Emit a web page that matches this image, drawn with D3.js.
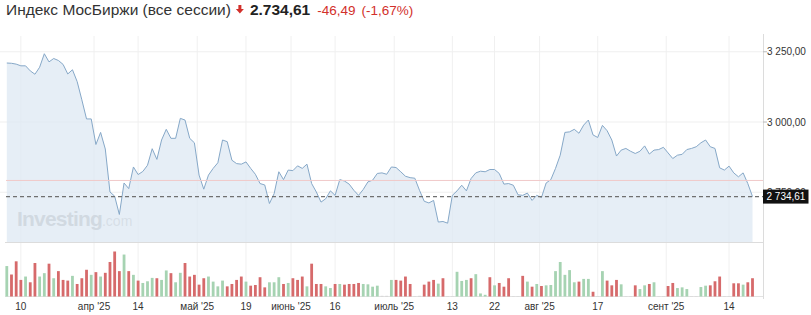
<!DOCTYPE html>
<html>
<head>
<meta charset="utf-8">
<script src="https://cdnjs.cloudflare.com/ajax/libs/d3/7.8.5/d3.min.js"></script>
<style>
  body { margin: 0; background: #fff; }
  .svg { display: block; font-family: "Liberation Sans", Arial, sans-serif; }
</style>
</head>
<body>
<div class="js-container"></div>
<script>
;(function() {
  'use strict';

  // Session closes, one per bar (weekend sessions included from late June).
  var closes = [
    3210, 3209, 3206, 3200, 3200, 3182, 3170, 3195, 3243, 3214,
    3226, 3219, 3205, 3171, 3186, 3144, 3079, 3011, 3011, 2920,
    2963, 2904, 2751, 2736, 2671, 2783, 2763, 2840, 2813, 2824,
    2846, 2905, 2867, 2936, 2974, 2942, 2942, 3013, 3007, 2942,
    2926, 2811, 2761, 2811, 2835, 2855, 2936, 2930, 2864, 2852,
    2850, 2858, 2835, 2814, 2781, 2776, 2710, 2745, 2823, 2795,
    2829, 2827, 2844, 2835, 2850, 2781, 2751, 2715, 2727, 2755,
    2739, 2795, 2790, 2779, 2757, 2739, 2760, 2787, 2793, 2817,
    2819, 2814, 2840, 2838, 2823, 2807, 2802, 2800, 2757, 2718,
    2712, 2721, 2644, 2646, 2640, 2739, 2755, 2775, 2755, 2799,
    2819, 2825, 2823, 2831, 2831, 2817, 2779, 2781, 2775, 2741,
    2739, 2747, 2721, 2739, 2731, 2783, 2795, 2835, 2882, 2963,
    2965, 2974, 2960, 2989, 3007, 2954, 2945, 2988, 2969, 2936,
    2879, 2900, 2906, 2896, 2888, 2896, 2915, 2886, 2900, 2902,
    2910, 2890, 2870, 2882, 2885, 2902, 2906, 2912, 2926, 2936,
    2912, 2906, 2837, 2829, 2843, 2819, 2805, 2819, 2781, 2734.61
  ];

  // Volume per session (relative units) and its colour: G up, R down, N empty session.
  var volumes = [
    90, 65, 104, 49, 59, 42, 99, 59, 69, 97,
    54, 75, 49, 47, 61, 37, 54, 79, 64, 72,
    59, 70, 102, 133, 75, 124, 75, 64, 47, 40,
    45, 55, 54, 49, 77, 69, 42, 70, 99, 59,
    64, 35, 54, 59, 44, 30, 47, 30, 37, 49,
    59, 44, 32, 34, 57, 27, 42, 42, 57, 37,
    40, 54, 49, 59, 30, 97, 37, 37, 30, 25,
    37, 37, 35, 37, 37, 40, 37, 36, 29, 32,
    2, 2, 49, 49, 47, 59, 37, 1, 2, 35,
    44, 49, 38, 54, 1, 1, 73, 46, 49, 54,
    66, 9, 5, 57, 33, 40, 29, 54, 1, 1,
    61, 44, 29, 37, 31, 33, 34, 75, 102, 64,
    78, 42, 44, 52, 52, 14, 1, 75, 47, 33,
    49, 36, 1, 1, 33, 22, 33, 37, 42, 1,
    1, 31, 40, 25, 27, 22, 1, 1, 28, 32,
    33, 45, 59, 1, 1, 39, 39, 35, 42, 54
  ];
  var volDir = (
    'GRRRGRRGGR' + 'GRRRGRRRGR' + 'GRRRRGRGRG' + 'GGRGGRGGRR' +
    'RRRGGGGRRR' + 'RGRRRRGGGR' + 'GRRRGRRRGG' + 'RGRRRRGGGG' +
    'NNGRRRRNNR' + 'RRGRNNGGGR' + 'GGGRGRRRNN' + 'RGRGRGGGGG' +
    'GGRGGRNGRR' + 'RGNNRGGRGN' + 'NRRGGGNNGG' + 'RRRNNRRGRR'
  ).split('');

  // X tick labels, placed at a session index.
  var xTicks = [
    {i: 3, label: '10'},
    {i: 18.6, label: "апр '25"},
    {i: 28, label: '14'},
    {i: 40.6, label: "май '25"},
    {i: 51, label: '19'},
    {i: 60.6, label: "июнь '25"},
    {i: 70, label: '16'},
    {i: 82.6, label: "июль '25"},
    {i: 95, label: '13'},
    {i: 104, label: '22'},
    {i: 113.6, label: "авг '25"},
    {i: 126, label: '17'},
    {i: 140.6, label: "сент '25"},
    {i: 154, label: '14'}
  ];

  var yTicks = [2750, 3000, 3250];

  var lastPrice = 2734.61;
  var refLine = 2792;
  var change = '-46,49';
  var changePct = '(-1,67%)';

  var W = 811, H = 315;
  var plotRight = 763;
  var priceTop = 38, priceBottom = 242;
  var volTop = 251.5, volBottom = 296.5;

  var fmt = function(v) {
    var s = v.toFixed(2).split('.');
    return s[0].replace(/\B(?=(\d{3})+(?!\d))/g, ' ') + ',' + s[1];
  };

  var svg = d3.select('.js-container').append('svg')
      .classed('svg', true)
      .attr('width', W)
      .attr('height', H);

  var x = d3.scaleLinear().domain([0, closes.length - 1]).range([6.8, 752.5]);
  var y = d3.scaleLinear().domain([2573, 3299]).range([priceBottom, priceTop]);
  var yVol = d3.scaleLinear().domain([0, d3.max(volumes)]).range([volBottom, volTop]);

  // Grid lines.
  svg.append('g').selectAll('line')
      .data(xTicks)
    .enter().append('line')
      .attr('x1', function(d) { return x(d.i); })
      .attr('x2', function(d) { return x(d.i); })
      .attr('y1', 36)
      .attr('y2', volBottom)
      .attr('stroke', '#f0f0f0');

  svg.append('g').selectAll('line')
      .data(yTicks)
    .enter().append('line')
      .attr('x1', 0)
      .attr('x2', plotRight)
      .attr('y1', function(d) { return y(d); })
      .attr('y2', function(d) { return y(d); })
      .attr('stroke', '#efefef');

  // Watermark.
  var logo = svg.append('text')
      .attr('x', 17)
      .attr('y', 226)
      .attr('fill', '#ababab');
  logo.append('tspan')
      .attr('font-size', 21)
      .attr('font-weight', 'bold')
      .attr('letter-spacing', -0.8)
      .text('Investing');
  logo.append('tspan')
      .attr('font-size', 14)
      .attr('fill', '#c0c0c0')
      .text('.com');

  // Price area + line.
  var area = d3.area()
      .x(function(d, i) { return x(i); })
      .y0(priceBottom)
      .y1(function(d) { return y(d); });

  var line = d3.line()
      .x(function(d, i) { return x(i); })
      .y(function(d) { return y(d); });

  svg.append('path')
      .datum(closes)
      .attr('d', area)
      .attr('fill', '#dde8f3')
      .attr('fill-opacity', 0.75);

  svg.append('path')
      .datum(closes)
      .attr('d', line)
      .attr('fill', 'none')
      .attr('stroke', '#86a8c8')
      .attr('stroke-width', 1);

  // Reference line and last price dashed line.
  svg.append('line')
      .attr('x1', 6).attr('x2', plotRight)
      .attr('y1', y(refLine)).attr('y2', y(refLine))
      .attr('stroke', '#f1c9c9');

  svg.append('line')
      .attr('x1', 6).attr('x2', plotRight)
      .attr('y1', y(lastPrice)).attr('y2', y(lastPrice))
      .attr('stroke', '#707070')
      .attr('stroke-width', 1.3)
      .attr('stroke-dasharray', '4,3');

  // Panel borders.
  svg.append('line')
      .attr('x1', 5).attr('x2', plotRight)
      .attr('y1', priceBottom + 0.5).attr('y2', priceBottom + 0.5)
      .attr('stroke', '#dcdcdc');
  svg.append('line')
      .attr('x1', 5).attr('x2', plotRight)
      .attr('y1', volBottom).attr('y2', volBottom)
      .attr('stroke', '#e2e2e2');
  svg.append('line')
      .attr('x1', plotRight + 0.5).attr('x2', plotRight + 0.5)
      .attr('y1', 34).attr('y2', 299)
      .attr('stroke', '#dcdcdc');

  // Volume bars.
  var colors = {G: '#a6d3b2', R: '#d66a6b', N: '#cfcfcf'};
  svg.append('g').selectAll('rect')
      .data(volumes)
    .enter().append('rect')
      .attr('x', function(d, i) { return x(i) - 1.4; })
      .attr('width', 2.8)
      .attr('y', function(d) { return yVol(d); })
      .attr('height', function(d) { return volBottom - yVol(d); })
      .attr('fill', function(d, i) { return colors[volDir[i]]; });

  // Right axis. The 2 750,00 label sits mostly under the price tag, as in the source.
  var yAxis = svg.append('g');
  yTicks.forEach(function(t) {
    yAxis.append('line')
        .attr('x1', plotRight).attr('x2', plotRight + 4)
        .attr('y1', y(t)).attr('y2', y(t))
        .attr('stroke', '#bbb');
    yAxis.append('text')
        .attr('x', plotRight + 4)
        .attr('y', y(t) + 3.5)
        .attr('font-size', 10)
        .attr('fill', '#333')
        .text(fmt(t));
  });

  // Last price tag.
  var ly = y(lastPrice);
  svg.append('rect')
      .attr('x', plotRight)
      .attr('y', ly - 7)
      .attr('width', 45.5)
      .attr('height', 14)
      .attr('fill', '#111');
  svg.append('text')
      .attr('x', plotRight + 3.5)
      .attr('y', ly + 3.6)
      .attr('font-size', 10)
      .attr('fill', '#fff')
      .text(fmt(lastPrice));

  // X axis labels.
  svg.append('g').selectAll('text')
      .data(xTicks)
    .enter().append('text')
      .attr('x', function(d) { return x(d.i); })
      .attr('y', 310)
      .attr('text-anchor', 'middle')
      .attr('font-size', 10)
      .attr('fill', '#333')
      .text(function(d) { return d.label; });

  // Header.
  var title = svg.append('text')
      .attr('x', 6)
      .attr('y', 15)
      .attr('font-size', 15.5)
      .attr('fill', '#333')
      .text('Индекс МосБиржи (все сессии)');
  var tx = 6 + title.node().getComputedTextLength() + 5;

  svg.append('path')
      .attr('d', 'M' + (tx + 2.5) + ',5h3v4h2.5l-4,4.5l-4,-4.5h2.5z')
      .attr('fill', '#d2302b');
  tx += 14;

  var price = svg.append('text')
      .attr('x', tx)
      .attr('y', 15)
      .attr('font-size', 15.5)
      .attr('font-weight', 'bold')
      .attr('fill', '#222')
      .text('2.734,61');
  tx += price.node().getComputedTextLength() + 7;

  var chg = svg.append('text')
      .attr('x', tx)
      .attr('y', 15)
      .attr('font-size', 13.5)
      .attr('fill', '#d2302b')
      .text(change);
  tx += chg.node().getComputedTextLength() + 6;

  svg.append('text')
      .attr('x', tx)
      .attr('y', 15)
      .attr('font-size', 13.5)
      .attr('fill', '#d2302b')
      .text(changePct);

}());
</script>
</body>
</html>
